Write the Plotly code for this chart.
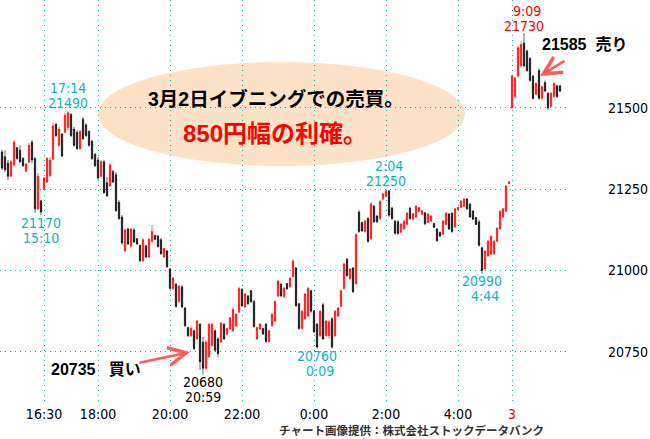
import plotly.graph_objects as go

# ---------------- time labels (5-minute bars) ----------------
def _lbl(m):
    return f"{(m // 60) % 24}:{m % 60:02d}"

times_day1 = [_lbl(m) for m in range(14 * 60, 15 * 60 + 15, 5)]        # 14:00-15:10
times_night = [_lbl(m) for m in range(16 * 60 + 30, 29 * 60 + 30, 5)]  # 16:30-5:25
times_day2 = [_lbl(m) for m in range(8 * 60 + 45, 10 * 60 + 10, 5)]    # 8:45-10:05
times = times_day1 + times_night + times_day2

# ---------------- OHLC values ----------------
opens = [
    21328, 21365, 21350, 21330, 21290, 21325, 21378, 21370, 21345, 21305, 21333, 21395, 21345, 21190, 21215,
    21250, 21272, 21292, 21342, 21450, 21385, 21420, 21425, 21440, 21480, 21435, 21425, 21375, 21465, 21448,
    21428, 21398, 21358, 21340, 21290, 21335, 21270, 21260, 21305, 21295, 21210, 21165, 21060, 21128, 21075,
    21125, 21098, 21078, 21030, 21076, 21042, 21090, 21108, 21106, 21095, 21042, 21060, 21005, 20945, 20958,
    20905, 20950, 20885, 20825, 20800, 20815, 20790, 20835, 20780, 20700, 20735, 20770, 20815, 20790, 20780,
    20835, 20805, 20820, 20815, 20830, 20872, 20942, 20888, 20922, 20938, 20905, 20790, 20820, 20822, 20835,
    20782, 20830, 20845, 20922, 20958, 20920, 20960, 20950, 20982, 21008, 20898, 20822, 20852, 20860, 20938,
    20875, 20835, 20800, 20895, 20800, 20800, 20852, 20800, 20860, 20890, 20945, 21035, 20975, 21008, 20960,
    21180, 21148, 21120, 21160, 21098, 21198, 21168, 21160, 21220, 21228, 21245, 21192, 21152, 21150, 21118,
    21128, 21142, 21192, 21158, 21165, 21182, 21173, 21178, 21148, 21152, 21145, 21128, 21118, 21112, 21142,
    21174, 21176, 21134, 21187, 21194, 21198, 21220, 21204, 21183, 21163, 21150, 21070, 21005, 21045, 21050,
    21052, 21090, 21128, 21165, 21182, 21267,
    21500, 21535, 21598, 21630, 21700, 21675, 21652, 21598, 21542, 21615, 21530, 21578, 21545, 21505, 21535,
    21568, 21568,
]
highs = [
    21350, 21371, 21370, 21340, 21340, 21402, 21380, 21385, 21349, 21331, 21392, 21402, 21349, 21300, 21217,
    21288, 21349, 21349, 21454, 21454, 21442, 21423, 21485, 21490, 21485, 21442, 21432, 21432, 21472, 21454,
    21432, 21402, 21362, 21349, 21340, 21340, 21288, 21331, 21309, 21303, 21217, 21171, 21131, 21131, 21131,
    21131, 21100, 21079, 21100, 21079, 21100, 21140, 21110, 21110, 21100, 21070, 21063, 21008, 20980, 20962,
    20956, 20956, 20888, 20827, 20827, 20818, 20848, 20839, 20796, 20787, 20839, 20839, 20818, 20796, 20842,
    20839, 20824, 20857, 20888, 20870, 20950, 20947, 20931, 20925, 20941, 20910, 20827, 20839, 20824, 20839,
    20818, 20870, 20910, 20971, 20962, 20950, 20962, 20980, 21033, 21011, 20901, 20879, 20931, 20950, 20941,
    20879, 20839, 20879, 20901, 20848, 20848, 20857, 20879, 20888, 20941, 21024, 21039, 21008, 21011, 21116,
    21186, 21150, 21156, 21165, 21211, 21202, 21171, 21217, 21239, 21250, 21248, 21196, 21156, 21156, 21146,
    21156, 21180, 21196, 21177, 21202, 21196, 21186, 21180, 21177, 21171, 21146, 21131, 21119, 21156, 21180,
    21177, 21180, 21193, 21196, 21217, 21223, 21223, 21208, 21186, 21165, 21156, 21073, 21063, 21094, 21110,
    21094, 21134, 21186, 21193, 21263, 21275,
    21602, 21595, 21690, 21705, 21730, 21680, 21657, 21602, 21580, 21622, 21570, 21585, 21549, 21549, 21580,
    21571, 21571,
]
lows = [
    21325, 21309, 21303, 21279, 21288, 21319, 21340, 21331, 21319, 21303, 21331, 21331, 21177, 21186, 21170,
    21248, 21269, 21288, 21340, 21411, 21380, 21349, 21423, 21432, 21411, 21380, 21371, 21371, 21402, 21411,
    21380, 21340, 21319, 21279, 21288, 21236, 21226, 21257, 21269, 21180, 21156, 21079, 21057, 21079, 21070,
    21085, 21079, 21027, 21027, 21039, 21039, 21085, 21094, 21070, 21048, 21039, 21008, 20941, 20941, 20885,
    20901, 20885, 20827, 20796, 20796, 20756, 20787, 20695, 20680, 20695, 20731, 20765, 20750, 20734, 20778,
    20787, 20802, 20818, 20811, 20827, 20870, 20888, 20885, 20894, 20901, 20824, 20787, 20818, 20802, 20778,
    20778, 20827, 20842, 20919, 20919, 20916, 20941, 20947, 20980, 20888, 20818, 20818, 20848, 20857, 20870,
    20808, 20760, 20796, 20787, 20796, 20790, 20760, 20796, 20857, 20888, 20941, 20980, 20971, 20931, 20956,
    21116, 21119, 21116, 21085, 21094, 21146, 21146, 21156, 21217, 21226, 21165, 21156, 21110, 21110, 21116,
    21125, 21140, 21156, 21156, 21162, 21180, 21171, 21140, 21146, 21150, 21131, 21088, 21103, 21110, 21140,
    21125, 21116, 21131, 21186, 21193, 21196, 21186, 21162, 21156, 21140, 21073, 20990, 21002, 21042, 21048,
    21048, 21088, 21125, 21162, 21180, 21266,
    21498, 21530, 21592, 21625, 21625, 21610, 21580, 21525, 21540, 21525, 21525, 21549, 21494, 21503, 21531,
    21531, 21549,
]
closes = [
    21348, 21315, 21310, 21290, 21335, 21395, 21345, 21335, 21322, 21328, 21385, 21340, 21190, 21290, 21180,
    21285, 21345, 21340, 21445, 21415, 21435, 21352, 21478, 21485, 21415, 21385, 21375, 21428, 21405, 21415,
    21385, 21345, 21322, 21285, 21335, 21240, 21230, 21325, 21272, 21185, 21160, 21085, 21125, 21082, 21128,
    21088, 21082, 21030, 21095, 21042, 21096, 21120, 21096, 21074, 21052, 21068, 21012, 20945, 20977, 20890,
    20952, 20888, 20830, 20800, 20822, 20760, 20845, 20720, 20700, 20780, 20835, 20835, 20755, 20745, 20838,
    20790, 20822, 20855, 20880, 20866, 20945, 20892, 20928, 20898, 20904, 20828, 20825, 20836, 20805, 20782,
    20815, 20866, 20905, 20968, 20922, 20946, 20944, 20976, 21030, 20892, 20822, 20875, 20928, 20945, 20875,
    20812, 20765, 20875, 20790, 20845, 20842, 20765, 20875, 20885, 20938, 21020, 20985, 21005, 20935, 21110,
    21120, 21122, 21152, 21090, 21205, 21150, 21150, 21212, 21236, 21245, 21170, 21160, 21115, 21114, 21143,
    21152, 21176, 21160, 21175, 21198, 21194, 21184, 21144, 21174, 21168, 21133, 21092, 21106, 21152, 21176,
    21128, 21120, 21190, 21195, 21214, 21220, 21190, 21165, 21158, 21142, 21078, 21000, 21060, 21090, 21105,
    21090, 21130, 21182, 21190, 21260, 21273,
    21598, 21592, 21685, 21695, 21630, 21615, 21585, 21530, 21575, 21530, 21565, 21552, 21500, 21545, 21575,
    21535, 21552,
]

# axis ticks
price_ticks = [20750, 21000, 21250, 21500]
time_tick_labels = ["16:30", "18:00", "20:00", "22:00", "0:00", "2:00", "4:00"]
day_tick_time = "8:45"
day_tick_label = "3"

x_idx = list(range(len(times)))

# ---------------- layout geometry (pixels) ----------------
W, H = 650, 439
PL, PR, PT, PB = 0, 566, 0, 401          # plot area in pixels


def px(xp):
    return (xp - PL) / (PR - PL)


def py(yp):
    return 1 - (yp - PT) / (PB - PT)


GRID = "#1AAFB2"
CYAN = "#12B4B8"
NUM_FONT = "DejaVu Sans Condensed, Liberation Sans Narrow, sans-serif"
JP_BOLD = "Liberation Sans, Noto Sans CJK JP, sans-serif"
NBSP = "\u00a0"

fig = go.Figure()
fig.add_trace(go.Candlestick(
    x=x_idx, open=opens, high=highs, low=lows, close=closes,
    increasing=dict(line=dict(color="#FF0000", width=0.6), fillcolor="#FF0000"),
    decreasing=dict(line=dict(color="#000000", width=0.6), fillcolor="#000000"),
    whiskerwidth=0, hoverinfo="skip", showlegend=False,
))

tickvals = [times.index(t) for t in time_tick_labels] + [times.index(day_tick_time)]
ticktext = time_tick_labels + [f"<span style='color:#FF0000'>{day_tick_label}</span>"]

fig.update_layout(
    width=W, height=H,
    margin=dict(l=PL, r=W - PR, t=PT, b=H - PB, pad=0),
    paper_bgcolor="white", plot_bgcolor="white",
    boxgap=0.35,
    xaxis=dict(
        range=[0.33, 189], rangeslider=dict(visible=False),
        tickvals=tickvals, ticktext=ticktext,
        showgrid=True, gridcolor=GRID, griddash="1px,4px", gridwidth=1,
        zeroline=False, showline=False, ticks="",
        tickfont=dict(family=NUM_FONT, size=14, color="#000000"),
        ticklabelstandoff=3, automargin=False,
    ),
    yaxis=dict(
        range=[20599, 21832], side="right",
        tickvals=price_ticks, ticktext=[str(v) for v in price_ticks],
        showgrid=True, gridcolor=GRID, griddash="1px,4px", gridwidth=1,
        zeroline=False, showline=False, ticks="",
        tickfont=dict(family=NUM_FONT, size=14, color="#000000"),
        ticklabelstandoff=41, automargin=False,
    ),
)

# ellipse
fig.add_shape(type="circle", xref="paper", yref="paper",
              x0=px(98), x1=px(465), y0=py(166), y1=py(62),
              fillcolor="#FCE3C8", line=dict(width=0), layer="below")

ann = []


def text(xp, yp, s, size, color, family=NUM_FONT):
    ann.append(dict(xref="paper", yref="paper", x=px(xp), y=py(yp), text=s,
                    showarrow=False, xanchor="center", yanchor="middle",
                    font=dict(family=family, size=size, color=color)))


text(276, 99, "<b>3月2日イブニングでの売買。</b>", 19.5, "#000000", JP_BOLD)
text(275, 133, "<b>850円幅の利確。</b>", 24, "#FF0000", JP_BOLD)
text(96, 369, f"<b>20735{NBSP}{NBSP}{NBSP}買い</b>", 16, "#000000", JP_BOLD)
text(584, 44, f"<b>21585{NBSP}{NBSP}売り</b>", 16, "#000000", JP_BOLD)

# price/time callouts (two lines each, 15 px apart)
text(68, 88, "17:14", 14, CYAN)
text(68, 103, "21490", 14, CYAN)
text(41, 223, "21170", 14, CYAN)
text(41, 238, "15:10", 14, CYAN)
text(203, 382, "20680", 14, "#000000")
text(203, 397, "20:59", 14, "#000000")
text(317, 356, "20760", 14, CYAN)
text(320, 371, "0:09", 14, CYAN)
text(389, 166, "2:04", 14, CYAN)
text(386, 181, "21250", 14, CYAN)
text(482, 281, "20990", 14, CYAN)
text(485, 296, "4:44", 14, CYAN)
text(527, 11, "9:09", 14, "#FF0000")
text(524, 26, "21730", 14, "#FF0000")

text(411, 430, "<b>チャート画像提供：株式会社ストックデータバンク</b>", 11.5, "#333333",
     "Noto Sans CJK JP, sans-serif")

# arrows
for tip, tail in [((190, 352), (138, 363)), ((540, 76), (566, 60))]:
    ann.append(dict(xref="paper", yref="paper", x=px(tip[0]), y=py(tip[1]),
                    ax=tail[0] - tip[0], ay=tail[1] - tip[1], text="",
                    showarrow=True, arrowhead=5, arrowsize=1.4, arrowwidth=2.5,
                    arrowcolor="#FF5C5C"))

fig.update_layout(annotations=ann)
fig.write_html("out.html", config={"displayModeBar": False},
               post_script="document.body.style.margin='0';")
